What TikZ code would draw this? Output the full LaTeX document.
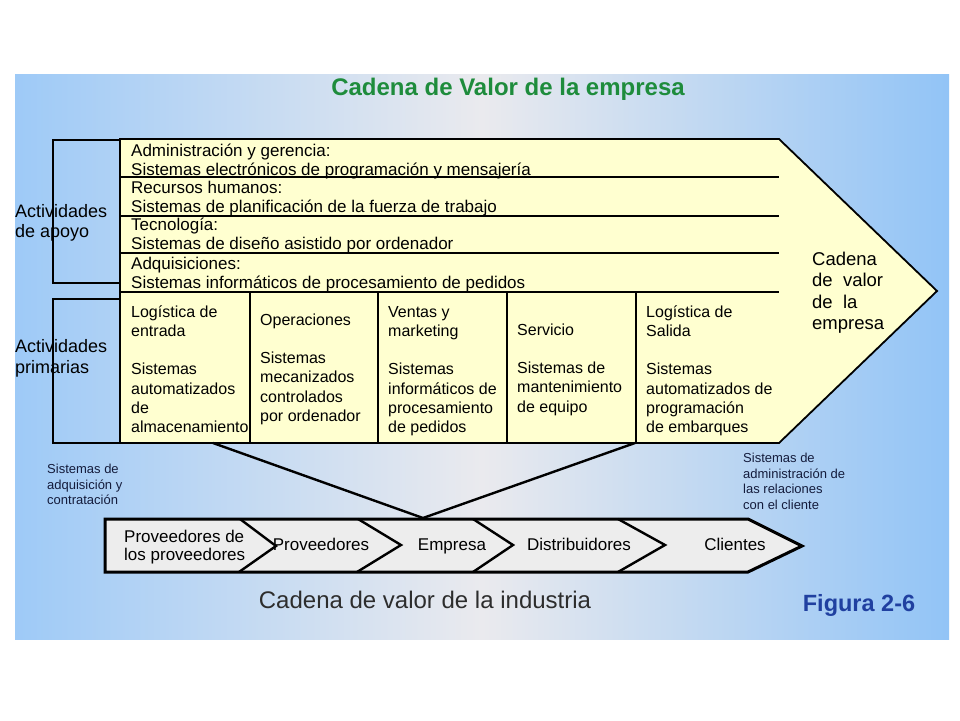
\documentclass[tikz,border=0pt]{standalone}
\usepackage{fontspec}
\setmainfont{Liberation Sans}
\definecolor{bgL}{RGB}{158,202,247}
\definecolor{bgM}{RGB}{234,234,238}
\definecolor{bgR}{RGB}{146,196,246}
\definecolor{yel}{RGB}{255,255,208}
\definecolor{stripgray}{RGB}{237,237,237}
\definecolor{titlegreen}{RGB}{30,140,60}
\definecolor{figblue}{RGB}{32,64,160}
\definecolor{navy}{RGB}{20,28,60}
\definecolor{capgray}{RGB}{45,45,45}
\newcommand\fsz[2]{\fontsize{#1}{#2}\selectfont}
\tikzset{
  tl/.style={inner sep=0pt, anchor=north west, align=left, yshift=#1},
  boxline/.style={line width=1.8pt, line join=miter},
  bracket/.style={line width=2pt},
  stripline/.style={line width=2.4pt, line join=miter},
  suptxt/.style={tl=14pt, font={\fsz{17}{19}}},
  primtxt/.style={tl=13pt, font={\fsz{16}{19.2}}},
  smalltxt/.style={tl=11pt, font={\fsz{13}{15.8}}, text=navy},
  indtxt/.style={inner sep=0pt, anchor=base, font={\fsz{17}{18}}}
}
\begin{document}
\begin{tikzpicture}[x=1pt,y=-1pt]
\useasboundingbox (0,0) rectangle (960,720);
\fill[white] (0,0) rectangle (960,720);
\shade[left color=bgL, right color=bgR, middle color=bgM] (15,74) rectangle (949,639);

% title
\node[inner sep=0pt, anchor=base, font={\fsz{24}{28}\bfseries}, text=titlegreen] (title) at (508,95) {Cadena de Valor de la empresa};

% value chain arrow
\draw[boxline, fill=yel] (120,139) -- (779,139) -- (937,291) -- (779,443) -- (120,443) -- cycle;
\foreach \yy in {177,216,253,292} \draw[boxline] (120,\yy) -- (779,\yy);
\foreach \xx in {250,378,507,636} \draw[boxline] (\xx,292) -- (\xx,443);

% brackets
\draw[bracket] (120,140) -- (53,140) -- (53,283) -- (120,283);
\draw[bracket] (120,299) -- (53,299) -- (53,443) -- (120,443);

% left labels
\node[tl=15pt, font={\fsz{18}{20}}] (apoyo) at (15,217) {\rule{0pt}{15pt}Actividades\\de apoyo};
\node[tl=15pt, font={\fsz{18}{21}}] (prim) at (15,352) {\rule{0pt}{15pt}Actividades\\primarias};

% support rows
\node[suptxt] (r1) at (131,156) {\rule{0pt}{14pt}Administración y gerencia:\\Sistemas electrónicos de programación y mensajería};
\node[suptxt] (r2) at (131,193) {\rule{0pt}{14pt}Recursos humanos:\\Sistemas de planificación de la fuerza de trabajo};
\node[suptxt] (r3) at (131,230) {\rule{0pt}{14pt}Tecnología:\\Sistemas de diseño asistido por ordenador};
\node[suptxt] (r4) at (131,269) {\rule{0pt}{14pt}Adquisiciones:\\Sistemas informáticos de procesamiento de pedidos};

% primary columns
\node[primtxt] (c1) at (131,317) {\rule{0pt}{13pt}Logística de\\entrada\\[19.2pt]Sistemas\\automatizados\\de\\almacenamiento};
\node[primtxt] (c2) at (260,325) {\rule{0pt}{13pt}Operaciones\\[19.2pt]Sistemas\\mecanizados\\controlados\\por ordenador};
\node[primtxt] (c3) at (388,317) {\rule{0pt}{13pt}Ventas y\\marketing\\[19.2pt]Sistemas\\informáticos de\\procesamiento\\de pedidos};
\node[primtxt] (c4) at (517,335) {\rule{0pt}{13pt}Servicio\\[19.2pt]Sistemas de\\mantenimiento\\de equipo};
\node[primtxt] (c5) at (646,317) {\rule{0pt}{13pt}Logística de\\Salida\\[19.2pt]Sistemas\\automatizados de\\programación\\de embarques};

% arrow label
\node[tl=15pt, font={\fsz{18.5}{21.5}}] (cadena) at (812,265) {\rule{0pt}{15pt}Cadena\\de\ \ valor\\de\ \ la\\empresa};

% small notes
\node[smalltxt] (adq) at (47,473) {\rule{0pt}{11pt}Sistemas de\\adquisición y\\contratación};
\node[smalltxt] (crm) at (743,462) {\rule{0pt}{11pt}Sistemas de\\administración de\\las relaciones\\con el cliente};

% funnel
\coordinate (fl) at (213,443);
\coordinate (fr) at (635,443);
\coordinate (apex) at (423,518);
\draw[stripline] (fl) -- (apex) -- (fr);

% industry strip
\draw[line width=3pt, line join=miter, fill=stripgray] (105,519) -- (748,519) -- (802,546) -- (748,572) -- (105,572) -- cycle;
\draw[stripline] (240,519) -- (276,546) -- (239,572);
\draw[stripline] (358,519) -- (401,545) -- (357,572);
\draw[stripline] (473,519) -- (513,545) -- (473,572);
\draw[stripline] (618,519) -- (665,545) -- (618,572);

\node[tl=14pt, font={\fsz{17}{18}}] (pp) at (124,542) {\rule{0pt}{14pt}Proveedores de\\los proveedores};
\node[indtxt] (prov) at (321,550) {Proveedores};
\node[indtxt] (emp) at (452,550) {Empresa};
\node[indtxt] (dist) at (579,550) {Distribuidores};
\node[indtxt] (cli) at (735,550) {Clientes};

% captions
\node[inner sep=0pt, anchor=base, font={\fsz{24}{28}}, text=capgray] (ind) at (425,608) {Cadena de valor de la industria};
\node[inner sep=0pt, anchor=base, font={\fsz{23.5}{28}\bfseries}, text=figblue] (fig) at (859,611) {Figura 2-6};
\end{tikzpicture}
\end{document}
